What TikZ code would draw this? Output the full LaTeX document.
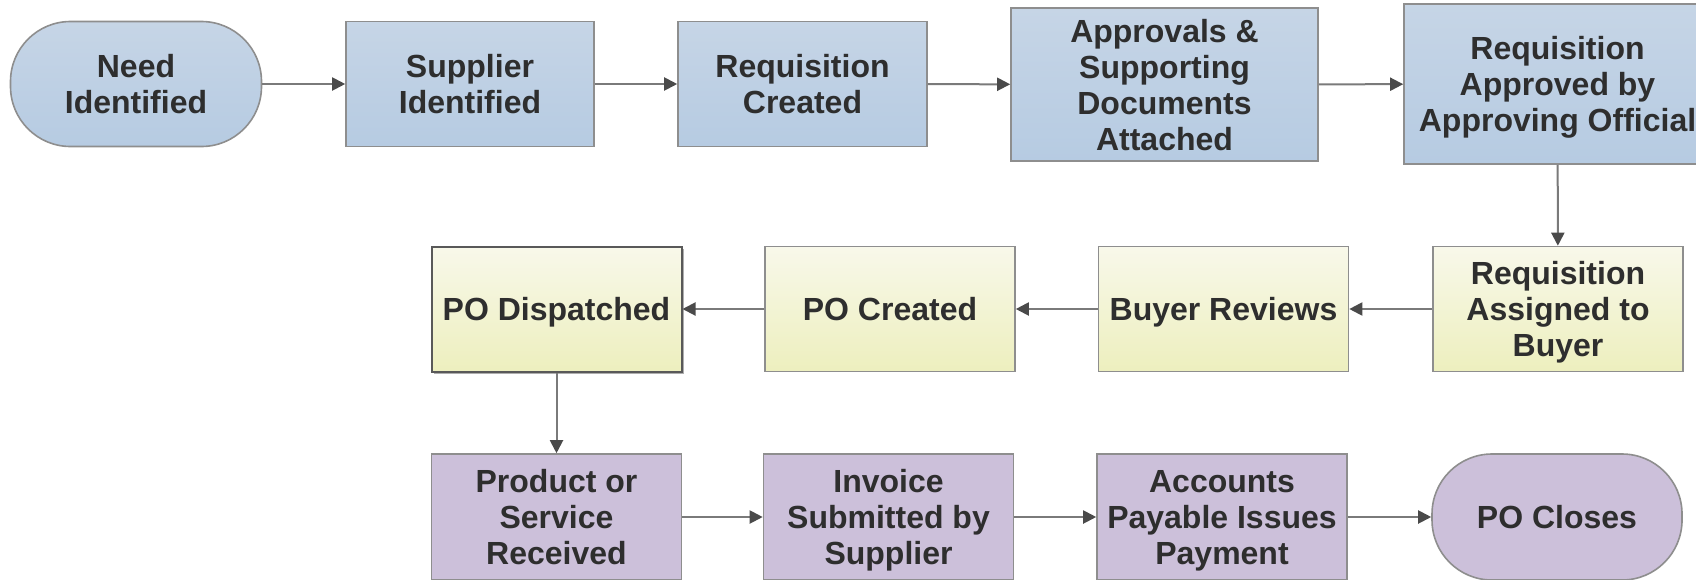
\documentclass[tikz,border=0pt]{standalone}
\usepackage{fontspec}
\setmainfont{Liberation Sans}
\usetikzlibrary{arrows.meta,shadows}

\definecolor{bluetop}{HTML}{C6D5E6}
\definecolor{bluebot}{HTML}{B6CBE2}
\definecolor{yeltop}{HTML}{F8F8EA}
\definecolor{yelbot}{HTML}{EDEFBE}
\definecolor{purfill}{HTML}{CCC0DA}
\definecolor{edge}{HTML}{8E8E8E}
\definecolor{txt}{HTML}{2E2E2E}
\definecolor{wire}{HTML}{7A7A7A}
\definecolor{tipc}{HTML}{4A4A4A}

\begin{document}
\begin{tikzpicture}[x=0.5pt,y=-0.5pt,
  base/.style={draw=edge, line width=0.8pt, align=center, inner sep=0pt,
    text=txt, font=\fontsize{16}{18}\selectfont\bfseries, text depth=0pt,
    minimum width=125pt, minimum height=62.5pt},
  bluebox/.style={base, top color=bluetop, bottom color=bluebot},
  yelbox/.style={base, top color=yeltop, bottom color=yelbot},
  purbox/.style={base, fill=purfill},
  terminal/.style={rounded corners=30pt},
  flow/.style={draw=wire, line width=1pt,
    -{Triangle[length=6.5pt,width=6.5pt,color=tipc]}}
]
\useasboundingbox (0,0) rectangle (1696,579);
\clip (0,0) rectangle (1696,579);

% first row: request side
\node[bluebox, terminal, minimum width=125.5pt] (need) at (136,84) {Need\\Identified};
\node[bluebox, minimum width=124pt] (supp) at (470,84) {Supplier\\Identified};
\node[bluebox, minimum width=124.5pt] (reqc) at (802.5,84) {Requisition\\Created};
\node[bluebox, minimum width=153.5pt, minimum height=76.5pt] (appr) at (1164.5,84.5)
  {Approvals \&\\Supporting\\Documents\\Attached};
\node[bluebox, minimum width=153.5pt, minimum height=80pt] (reqa) at (1557.5,84)
  {Requisition\\Approved by\\Approving Official};

% second row: purchasing side, right to left
\node[yelbox] (assg) at (1558,309) {Requisition\\Assigned to\\Buyer};
\node[yelbox] (buyr) at (1223.5,309) {Buyer Reviews};
\node[yelbox] (poc) at (890,309) {PO Created};
\node[yelbox, draw=black!65, line width=1pt,
  drop shadow={shadow xshift=1pt, shadow yshift=-1.2pt, opacity=0.45, fill=black!70}] (pod) at (556.5,309) {PO Dispatched};

% third row: receipt and payment
\node[purbox, minimum height=63pt] (prod) at (556.5,517) {Product or\\Service\\Received};
\node[purbox, minimum height=63pt] (inv) at (888.5,517) {Invoice\\Submitted by\\Supplier};
\node[purbox, minimum height=63pt] (acc) at (1222,517) {Accounts\\Payable Issues\\Payment};
\node[purbox, terminal, minimum height=63pt] (close) at (1557,517) {PO Closes};

% connectors
\draw[flow] (need) -- (supp);
\draw[flow] (supp) -- (reqc);
\draw[flow] (reqc) -- (appr);
\draw[flow] (appr) -- (reqa);
\draw[flow] (reqa) -- (assg);
\draw[flow] (assg) -- (buyr);
\draw[flow] (buyr) -- (poc);
\draw[flow] (poc) -- (pod);
\draw[flow] (pod) -- (prod);
\draw[flow] (prod) -- (inv);
\draw[flow] (inv) -- (acc);
\draw[flow] (acc) -- (close);
\end{tikzpicture}
\end{document}
